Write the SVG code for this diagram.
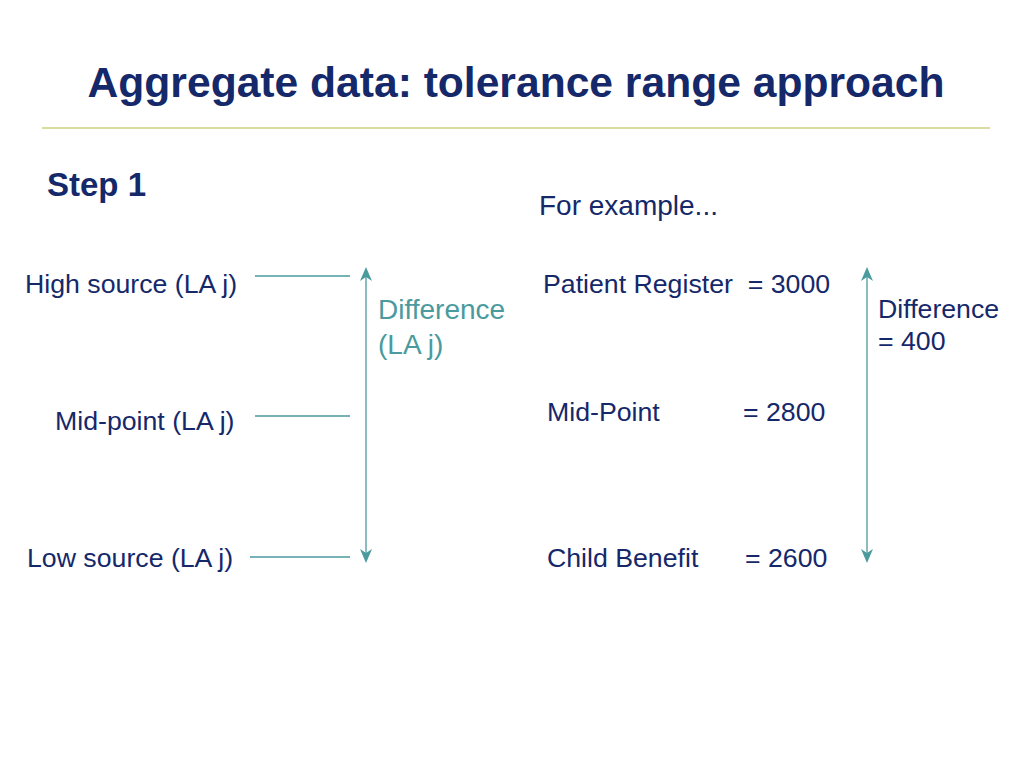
<svg xmlns="http://www.w3.org/2000/svg" width="1024" height="768" viewBox="0 0 1024 768">
<style>
.t{font-family:"Liberation Sans",Arial,sans-serif;fill:#14286a}
.b{font-weight:bold}
.s{font-size:26.7px}
.teal{fill:#4a9a9e}
.ln{stroke:#4a9a9e;stroke-width:1.3;fill:none}
</style>
<defs>
<marker id="ah" viewBox="0 0 14 12" refX="12" refY="6" markerWidth="14" markerHeight="12" markerUnits="userSpaceOnUse" orient="auto-start-reverse">
<path d="M0,0 L14,6 L0,12 L4,6 Z" fill="#4a9a9e"/>
</marker>
</defs>
<rect width="1024" height="768" fill="#ffffff"/>
<text class="t b" x="516" y="97" font-size="42.6" text-anchor="middle">Aggregate data: tolerance range approach</text>
<line x1="42" y1="128" x2="990" y2="128" stroke="#d8dc9c" stroke-width="2"/>
<text class="t b" x="47" y="196" font-size="33">Step 1</text>
<text class="t" x="539" y="215" font-size="28">For example...</text>
<g id="left-labels">
<text class="t s" x="25" y="293">High source (LA j)</text>
<text class="t s" x="55" y="430">Mid-point (LA j)</text>
<text class="t s" x="27" y="567">Low source (LA j)</text>
</g>
<g id="connectors">
<line class="ln" x1="255" y1="276" x2="350" y2="276"/>
<line class="ln" x1="255" y1="416" x2="350" y2="416"/>
<line class="ln" x1="250" y1="557" x2="350" y2="557"/>
<line class="ln" x1="366" y1="269" x2="366" y2="561" marker-start="url(#ah)" marker-end="url(#ah)"/>
<line class="ln" x1="867" y1="269" x2="867" y2="561" marker-start="url(#ah)" marker-end="url(#ah)"/>
</g>
<g id="left-diff">
<text class="t teal" x="378" y="319" font-size="28">Difference</text>
<text class="t teal" x="378" y="354" font-size="28">(LA j)</text>
</g>
<g id="right-values">
<text class="t s" x="543" y="293" xml:space="preserve">Patient Register  = 3000</text>
<text class="t s" x="547" y="421">Mid-Point</text>
<text class="t s" x="743" y="421">= 2800</text>
<text class="t s" x="547" y="567">Child Benefit</text>
<text class="t s" x="745" y="567">= 2600</text>
</g>
<g id="right-diff">
<text class="t s" x="878" y="318">Difference</text>
<text class="t s" x="878" y="350">= 400</text>
</g>
</svg>
